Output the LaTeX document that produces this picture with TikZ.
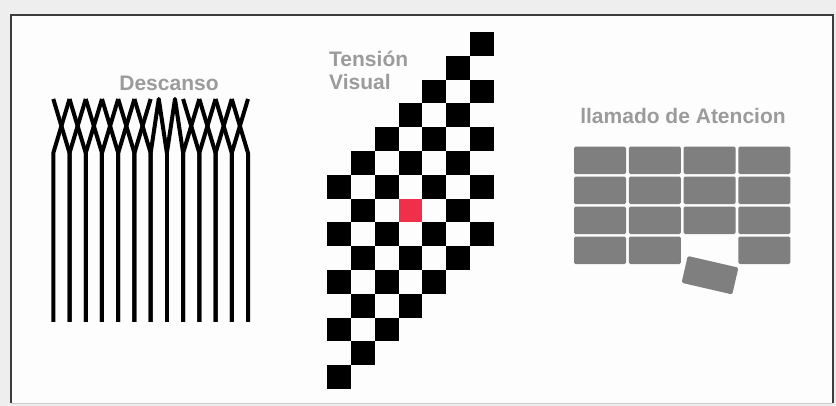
\documentclass[tikz,border=0pt]{standalone}
\usepackage{fontspec}
\setmainfont{Liberation Sans}
\usepackage{tikz}
\usetikzlibrary{positioning}
\definecolor{PageGray}{HTML}{EEEEEE}
\definecolor{PanelWhite}{HTML}{FDFDFD}
\definecolor{FrameGray}{HTML}{3C3C3C}
\definecolor{CaptionGray}{HTML}{9B9B9B}
\definecolor{TileGray}{HTML}{7F7F7F}
\definecolor{AccentRed}{HTML}{F0304A}

\begin{document}
\begin{tikzpicture}[x=1pt,y=-1pt,
  caption/.style={text=CaptionGray,font=\fontsize{21}{24}\selectfont\bfseries,inner sep=0pt},
  comb/.style={line width=4pt,line join=round},
  cell/.style={fill=black,minimum size=23.9pt,inner sep=0pt,outer sep=0pt},
  tile/.style={fill=TileGray,rounded corners=1.5pt,minimum width=52pt,minimum height=27.5pt,inner sep=0pt}]
\useasboundingbox (0,0) rectangle (836,406);
\fill[PageGray] (0,0) rectangle (836,406);
\fill[PanelWhite] (11,15) rectangle (833,403);
\draw[FrameGray,line width=2pt] (11,403) -- (11,15) -- (833,15) -- (833,403);
\draw[black!20] (11,403) -- (833,403);

\node[caption] (descanso) at (169,83) {Descanso};
\foreach \i in {1,2,3,4,5,6,9,10,11,12}
  \draw[comb] ({53.3+16.225*(\i-1)},99) -- ({53.3+16.225*\i},153) -- ({53.3+16.225*\i},322);
\foreach \i in {0,1,2,3,4,5,8,9,10,11}
  \draw[comb] ({53.3+16.225*(\i+1)},99) -- ({53.3+16.225*\i},153) -- ({53.3+16.225*\i},322);
\draw[comb] (150.65,322) -- (150.65,153) -- (158.76,99) -- (166.88,153) -- (174.99,99) -- (183.1,153) -- (183.1,322);
\draw[comb] (166.88,153) -- (166.88,322);

\node[caption,anchor=base west] (tension) at (329,66.5) {Tensión};
\node[caption,below=23.5pt of tension.base west,anchor=base west] (visual) {Visual};
\foreach \r in {0,...,14}
  \foreach \c in {0,...,6} {
    \pgfmathtruncatemacro\shown{(\c>=6-\r) && (\c<=14-\r) && (mod(\r+\c,2)==0)}
    \ifnum\shown=1
      \node[cell] (sq-\r-\c) at ({338.9+23.85*\c},{43.9+23.8*\r}) {};
    \fi
  }
\node[cell,fill=AccentRed] (focus) at (sq-7-3) {};

\node[caption,anchor=base] (llamado) at (683,124) {llamado de Atencion};
\foreach \r in {0,...,3}
  \foreach \c in {0,...,3} {
    \pgfmathtruncatemacro\gap{(\r==3) && (\c==2)}
    \ifnum\gap=0
      \node[tile] (tile-\r-\c) at ({600+54.8*\c},{160.3+30*\r}) {};
    \fi
  }
\node[tile,rotate=-13] (loose) at (710,275.2) {};
\end{tikzpicture}
\end{document}
